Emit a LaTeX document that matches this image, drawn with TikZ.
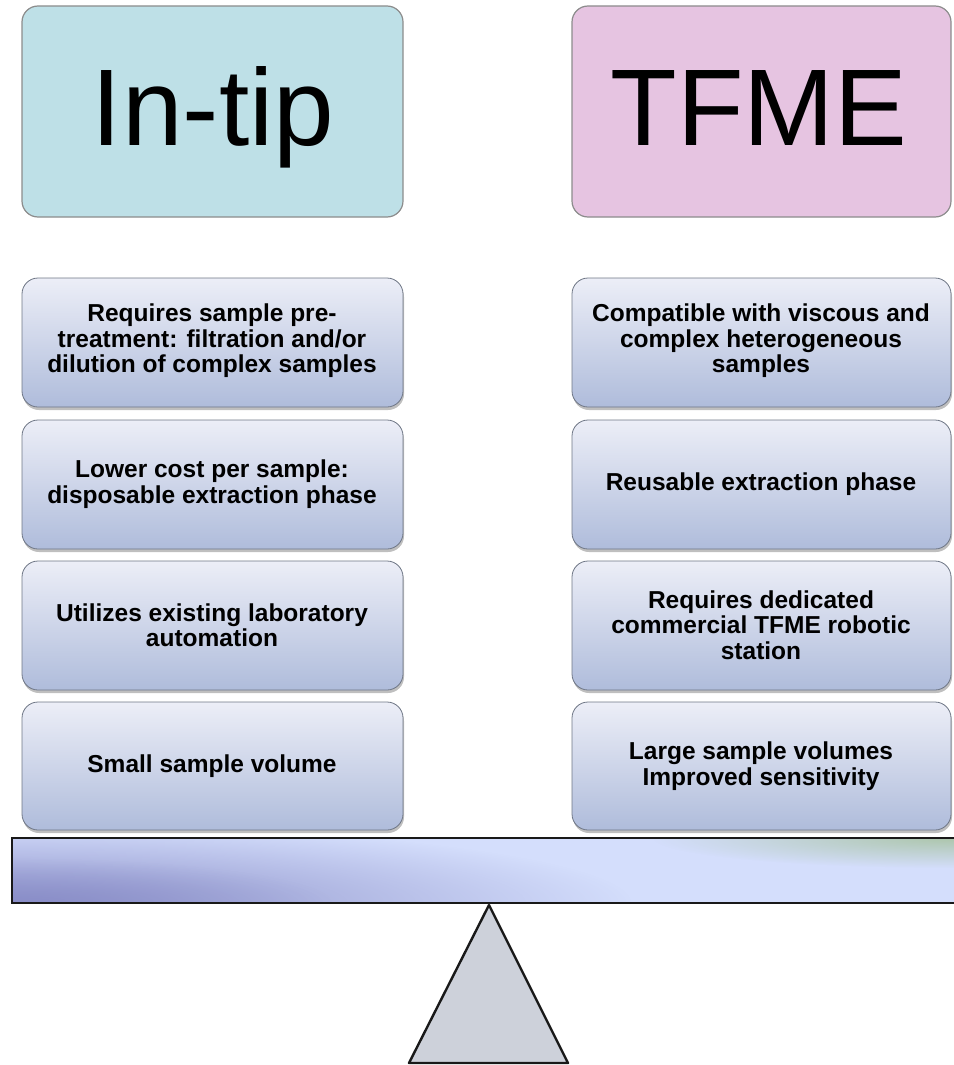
\documentclass[tikz,border=0pt]{standalone}
\usepackage{fontspec}
\setmainfont{Liberation Sans}
\usetikzlibrary{fadings,shadows}
\definecolor{hdrL}{HTML}{BEE0E7}
\definecolor{hdrR}{HTML}{E6C4E1}
\definecolor{hdrB}{HTML}{8C8C8C}
\definecolor{itTop}{HTML}{ECEEF7}
\definecolor{itBot}{HTML}{AFBCDB}
\definecolor{itB}{HTML}{6E7685}
\definecolor{beamL}{HTML}{D4DEFC}
\definecolor{beamD}{HTML}{8A8EC8}
\definecolor{beamG}{HTML}{A9C4A4}
\definecolor{triF}{HTML}{CDD1DA}
\tikzfading[name=softspot, inner color=transparent!0, outer color=transparent!100]
\begin{document}
\begin{tikzpicture}[x=1pt,y=-1pt,
  hdr/.style={draw=hdrB, line width=1.2pt, rounded corners=16pt},
  hdrtext/.style={anchor=base, font=\fontsize{109}{120}\selectfont, inner sep=0pt},
  item/.style={draw=itB, line width=0.8pt, rounded corners=16pt, top color=itTop, bottom color=itBot},
  itemshadow/.style={fill=black, opacity=0.25, rounded corners=16pt},
  itemtext/.style={align=center, font=\bfseries\fontsize{24.5}{25.5}\selectfont, inner sep=0pt}]
\useasboundingbox (0,0) rectangle (953,1065);
% headers
\draw[hdr, fill=hdrL] (22,6) rectangle (403,217);
\draw[hdr, fill=hdrR] (572,6) rectangle (951,217);
\node[hdrtext] (hl) at (213,145) {In-tip};
\node[hdrtext] (hr) at (759,145) {TFME};
% item boxes
\foreach \x/\xx in {22/403,572/951}{
  \foreach \y/\yy in {278/407,420/549,561/690,702/830}{
    \fill[itemshadow] (\x+1,\y+3) rectangle (\xx+1,\yy+3);
    \draw[item] (\x,\y) rectangle (\xx,\yy);
  }
}
\node[itemtext] (l1) at (212,341) {Requires sample pre-\\treatment: filtration and/or\\dilution of complex samples};
\node[itemtext] (l2) at (212,484) {Lower cost per sample:\\disposable extraction phase};
\node[itemtext] (l3) at (212,625) {Utilizes existing laboratory\\automation};
\node[itemtext] (l4) at (212,766) {Small sample volume};
\node[itemtext] (r1) at (761,341) {Compatible with viscous and\\complex heterogeneous\\samples};
\node[itemtext] (r2) at (761,484) {Reusable extraction phase};
\node[itemtext] (r3) at (761,625) {Requires dedicated\\commercial TFME robotic\\station};
\node[itemtext] (r4) at (761,766) {Large sample volumes\\Improved sensitivity};
% beam
\begin{scope}
\clip (12,838) rectangle (956,903);
\fill[beamL] (12,838) rectangle (956,903);
\fill[beamD, path fading=softspot] (12,903) ellipse (620pt and 80pt);
\fill[beamD, path fading=softspot, opacity=0.7] (12,903) ellipse (320pt and 45pt);
\fill[beamG, path fading=softspot, opacity=0.9] (953,838) ellipse (300pt and 30pt);
\end{scope}
\draw[line width=2.6pt, black!90] (956,838) -- (12,838) -- (12,903) -- (956,903);
% fulcrum
\draw[line width=2.4pt, black!90, fill=triF, line join=round] (489,905) -- (568,1063) -- (409,1063) -- cycle;
\end{tikzpicture}
\end{document}
